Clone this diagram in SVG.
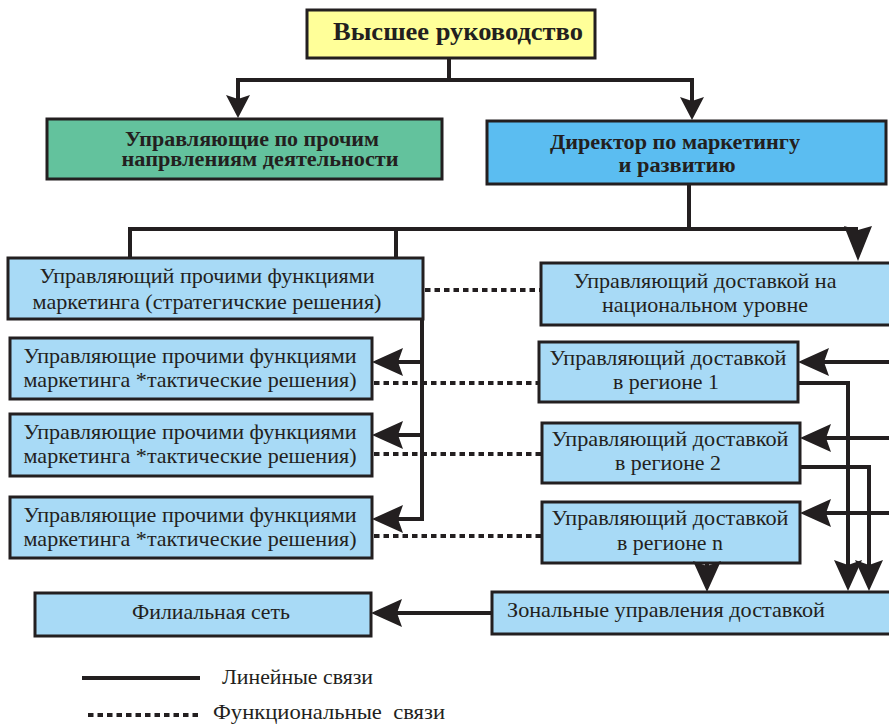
<svg xmlns="http://www.w3.org/2000/svg" xmlns:xlink="http://www.w3.org/1999/xlink" width="889" height="724" viewBox="0 0 889 724">
<style>
  .box{stroke:#231f20;stroke-width:3}
  .lb{fill:#a8daf6}
  .t{font-family:'Liberation Serif','DejaVu Serif',serif;font-size:21px;fill:#231f20;text-anchor:middle}
  .tb{font-family:'Liberation Serif','DejaVu Serif',serif;font-size:20px;font-weight:bold;fill:#231f20;text-anchor:middle}
  .st{text-anchor:start}
  .ln{fill:none;stroke:#231f20;stroke-width:4}
  .dt{fill:none;stroke:#231f20;stroke-width:4;stroke-dasharray:5.5 4}
  .ah{fill:#231f20}
</style>
<defs>
  <path id="ah" class="ah" d="M0,0 L-31,-14 L-26,0 L-31,14 Z"/>
  <path id="ahs" class="ah" d="M0,0 L-23,-12 L-19,0 L-23,12 Z"/>
</defs>

<g id="top">
  <rect class="box" x="307" y="10" width="288" height="48" fill="#ffff99"/>
  <text class="tb" x="458" y="40" style="font-size:25px" textLength="250" lengthAdjust="spacingAndGlyphs">Высшее руководство</text>
</g>
<g id="other-directions">
  <rect class="box" x="47" y="119" width="395" height="60" fill="#63c29d"/>
  <text class="tb" x="252" y="146" textLength="254" lengthAdjust="spacingAndGlyphs">Управляющие по прочим</text>
  <text class="tb" x="260" y="166" textLength="277" lengthAdjust="spacingAndGlyphs">напрвлениям деятельности</text>
</g>
<g id="director">
  <rect class="box" x="487" y="121" width="399" height="63" fill="#5bbdf1"/>
  <text class="tb" x="675" y="149" textLength="250" lengthAdjust="spacingAndGlyphs">Директор по маркетингу</text>
  <text class="tb" x="677" y="172" textLength="117" lengthAdjust="spacingAndGlyphs">и развитию</text>
</g>
<g id="strategic">
  <rect class="box lb" x="8" y="258" width="415" height="61"/>
  <text class="t" x="207" y="283" textLength="335" lengthAdjust="spacingAndGlyphs">Управляющий прочими функциями</text>
  <text class="t" x="207" y="309" textLength="349" lengthAdjust="spacingAndGlyphs">маркетинга (стратегичские решения)</text>
</g>
<g id="tactical1">
  <rect class="box lb" x="10" y="338" width="362" height="61"/>
  <text class="t" x="190" y="363" textLength="333" lengthAdjust="spacingAndGlyphs">Управляющие прочими функциями</text>
  <text class="t" x="190" y="387" textLength="333" lengthAdjust="spacingAndGlyphs">маркетинга *тактические решения)</text>
</g>
<g id="tactical2">
  <rect class="box lb" x="10" y="414" width="362" height="62"/>
  <text class="t" x="190" y="439" textLength="333" lengthAdjust="spacingAndGlyphs">Управляющие прочими функциями</text>
  <text class="t" x="190" y="463" textLength="333" lengthAdjust="spacingAndGlyphs">маркетинга *тактические решения)</text>
</g>
<g id="tactical3">
  <rect class="box lb" x="10" y="497" width="362" height="61"/>
  <text class="t" x="190" y="522" textLength="333" lengthAdjust="spacingAndGlyphs">Управляющие прочими функциями</text>
  <text class="t" x="190" y="546" textLength="333" lengthAdjust="spacingAndGlyphs">маркетинга *тактические решения)</text>
</g>
<g id="national">
  <rect class="box lb" x="541" y="263" width="356" height="62"/>
  <text class="t" x="705" y="288" textLength="263" lengthAdjust="spacingAndGlyphs">Управляющий доставкой на</text>
  <text class="t" x="705" y="312" textLength="206" lengthAdjust="spacingAndGlyphs">национальном уровне</text>
</g>
<g id="region1">
  <rect class="box lb" x="539" y="342" width="259" height="60"/>
  <text class="t" x="668" y="365" textLength="237" lengthAdjust="spacingAndGlyphs">Управляющий доставкой</text>
  <text class="t" x="666" y="389" textLength="106" lengthAdjust="spacingAndGlyphs">в регионе 1</text>
</g>
<g id="region2">
  <rect class="box lb" x="542" y="423" width="258" height="60"/>
  <text class="t" x="670" y="446" textLength="237" lengthAdjust="spacingAndGlyphs">Управляющий доставкой</text>
  <text class="t" x="668" y="470" textLength="106" lengthAdjust="spacingAndGlyphs">в регионе 2</text>
</g>
<g id="regionn">
  <rect class="box lb" x="542" y="502" width="258" height="61"/>
  <text class="t" x="670" y="525" textLength="237" lengthAdjust="spacingAndGlyphs">Управляющий доставкой</text>
  <text class="t" x="670" y="550" textLength="106" lengthAdjust="spacingAndGlyphs">в регионе n</text>
</g>
<g id="zonal">
  <rect class="box lb" x="492" y="592" width="405" height="42"/>
  <text class="t st" x="507" y="617" textLength="318" lengthAdjust="spacingAndGlyphs">Зональные управления доставкой</text>
</g>
<g id="filial">
  <rect class="box lb" x="35" y="593" width="336" height="43"/>
  <text class="t" x="211" y="619" textLength="158" lengthAdjust="spacingAndGlyphs">Филиальная сеть</text>
</g>

<g id="connectors">
  <!-- top management -->
  <path class="ln" d="M449,58 V80 M236,80 H694 M238,80 V108 M692,80 V110"/>
  <use xlink:href="#ahs" transform="translate(238,118) rotate(90)"/>
  <use xlink:href="#ahs" transform="translate(692,120) rotate(90)"/>
  <!-- director -->
  <path class="ln" d="M689,184 V229 M128,229 H858 M130,229 V258 M396,229 V258"/>
  <path class="ah" d="M858,261 L844,226 L858,230 L872,226 Z"/>
  <!-- left bus -->
  <path class="ln" d="M422,319 V521 M424,362 H380 M424,435 H380 M424,519 H380"/>
  <use xlink:href="#ah" transform="translate(372,362) rotate(180)"/>
  <use xlink:href="#ah" transform="translate(372,435) rotate(180)"/>
  <use xlink:href="#ah" transform="translate(372,519) rotate(180)"/>
  <!-- functional links -->
  <path class="dt" d="M425,290 H541 M374,383 H539 M374,454 H542 M374,536 H542"/>
  <!-- right side -->
  <path class="ln" d="M889,362 H806 M889,438 H808 M889,513 H808"/>
  <use xlink:href="#ah" transform="translate(798,362) rotate(180)"/>
  <use xlink:href="#ah" transform="translate(800,438) rotate(180)"/>
  <use xlink:href="#ah" transform="translate(800,513) rotate(180)"/>
  <path class="ln" d="M798,383 H848 V580 M800,467 H869 V580"/>
  <use xlink:href="#ah" transform="translate(848,591) rotate(90)"/>
  <use xlink:href="#ah" transform="translate(869,591) rotate(90)"/>
  <path class="ln" d="M707,563 V575"/>
  <use xlink:href="#ah" transform="translate(707,592) rotate(90)"/>
  <!-- zonal to filial -->
  <path class="ln" d="M492,613 H380"/>
  <use xlink:href="#ah" transform="translate(371,613) rotate(180)"/>
</g>

<g id="legend">
  <path class="ln" d="M82,678 H200"/>
  <text class="t st" x="222" y="684" textLength="151" lengthAdjust="spacingAndGlyphs">Линейные связи</text>
  <path class="dt" d="M88,715 H200"/>
  <text class="t st" x="213" y="719" textLength="232" lengthAdjust="spacingAndGlyphs" xml:space="preserve">Функциональные  связи</text>
</g>
</svg>
